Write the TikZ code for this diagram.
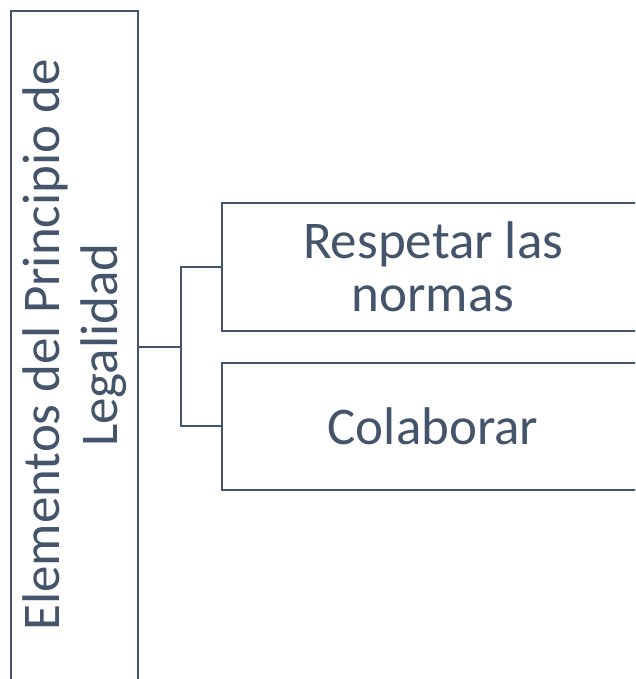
\documentclass[tikz,border=0pt]{standalone}
\usepackage{fontspec}
\setmainfont{Carlito}
\definecolor{slate}{HTML}{44546A}
\begin{document}
\begin{tikzpicture}[x=1pt,y=-1pt,
  box/.style={draw=slate,line width=2pt,rectangle,inner sep=0pt,outer sep=0pt,
    text=slate,align=center,font=\fontsize{53}{53.3}\selectfont},
  link/.style={draw=slate,line width=2pt}]
\useasboundingbox (0,0) rectangle (635,679);
\clip (0,0) rectangle (635,679);
\node[box,minimum width=127.3pt,minimum height=672pt] (root) at (74.7,347) {};
\node[text=slate,align=center,font=\fontsize{53}{58}\selectfont,rotate=90,inner sep=0pt] (roottext) at (74.7,345) {Elementos del Principio de\\Legalidad};
\node[box,minimum width=421.7pt,minimum height=127.4pt] (a) at (433.1,267) {Respetar las\\normas};
\node[box,minimum width=421.7pt,minimum height=127.3pt] (b) at (433.1,426.4) {Colaborar};
\draw[link] (root.east |- 0,347) -- (180.7,347) coordinate (j) |- (a.west);
\draw[link] (j) |- (b.west);
\end{tikzpicture}
\end{document}
